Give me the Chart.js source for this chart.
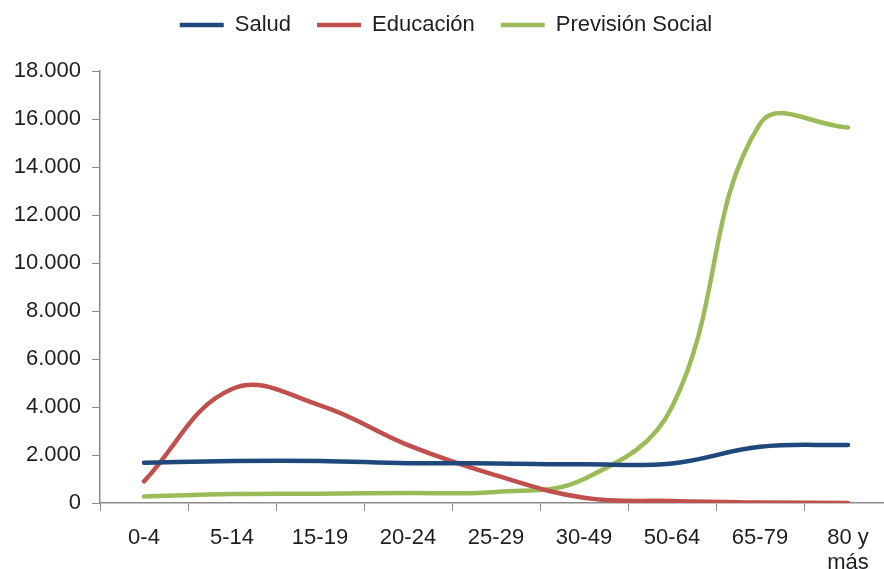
<!DOCTYPE html>
<html lang="es">
<head>
<meta charset="utf-8">
<title>Gasto por grupo de edad</title>
<script src="https://cdn.jsdelivr.net/npm/chart.js@4/dist/chart.umd.min.js"></script>
<style>
  html, body { margin: 0; padding: 0; background: #ffffff; overflow: hidden; }
  #chart { display: block; }
</style>
</head>
<body>
<canvas id="chart" width="892" height="569"></canvas>
<script>
// Grupos de edad (eje X)
const categories = ['0-4', '5-14', '15-19', '20-24', '25-29', '30-49', '50-64', '65-79', ['80 y', 'más']];

// Gasto por persona según grupo de edad
const salud     = [1680, 1750, 1750, 1660, 1650, 1610, 1650, 2340, 2420];
const educacion = [900, 4750, 4070, 2410, 1150, 220, 80, 20, 0];
const prevision = [270, 370, 390, 420, 460, 1000, 4000, 15800, 15650];

// Marcas del eje Y
const yTicks = [0, 2000, 4000, 6000, 8000, 10000, 12000, 14000, 16000, 18000];

const FONT = 'Liberation Sans, Arial, sans-serif';
const TEXT = '#1e1e24';
const AXIS = '#8a8a8a';

// Separador de miles con punto
const fmt = v => String(v).replace(/\B(?=(\d{3})+(?!\d))/g, '.');

// Espacio extra bajo la leyenda
const legendGap = {
  id: 'legendGap',
  afterInit(chart) {
    const fit = chart.legend.fit;
    chart.legend.fit = function () { fit.call(this); this.height += 25; };
  }
};

const series = [
  { label: 'Salud', data: salud, color: '#1F497D' },
  { label: 'Educación', data: educacion, color: '#C0504D' },
  { label: 'Previsión Social', data: prevision, color: '#9BBB59' }
];

new Chart(document.getElementById('chart'), {
  type: 'line',
  data: {
    labels: categories,
    datasets: series.map(s => ({
      label: s.label,
      data: s.data,
      borderColor: s.color,
      backgroundColor: s.color,
      borderWidth: 4.5,
      borderCapStyle: 'round',
      pointRadius: 0,
      pointHoverRadius: 0,
      tension: 0.4,
      fill: false
    }))
  },
  plugins: [legendGap],
  options: {
    responsive: false,
    animation: false,
    layout: { padding: { top: -12, right: 0, left: 0, bottom: 0 } },
    plugins: {
      tooltip: { enabled: false },
      legend: {
        position: 'top',
        labels: {
          usePointStyle: true,
          pointStyle: 'line',
          pointStyleWidth: 44,
          padding: 26,
          color: TEXT,
          font: { family: FONT, size: 22 }
        }
      }
    },
    scales: {
      x: {
        offset: true,
        grid: { display: true, drawOnChartArea: false, drawTicks: true, tickLength: 8, color: AXIS, offset: true },
        border: { display: true, color: AXIS, width: 1.5 },
        ticks: {
          color: TEXT,
          font: { family: FONT, size: 22, lineHeight: 1.15 },
          padding: 14,
          maxRotation: 0,
          autoSkip: false
        },
        afterFit(scale) { scale.height = 66; }
      },
      y: {
        min: 0,
        max: 18000,
        grid: { display: true, drawOnChartArea: false, drawTicks: true, tickLength: 8, color: AXIS },
        border: { display: true, color: AXIS, width: 1.5 },
        afterBuildTicks(scale) { scale.ticks = yTicks.map(v => ({ value: v })); },
        ticks: {
          color: TEXT,
          font: { family: FONT, size: 22 },
          padding: 11,
          callback: v => fmt(v)
        },
        afterFit(scale) { scale.width = 100; }
      }
    }
  }
});
</script>
</body>
</html>
